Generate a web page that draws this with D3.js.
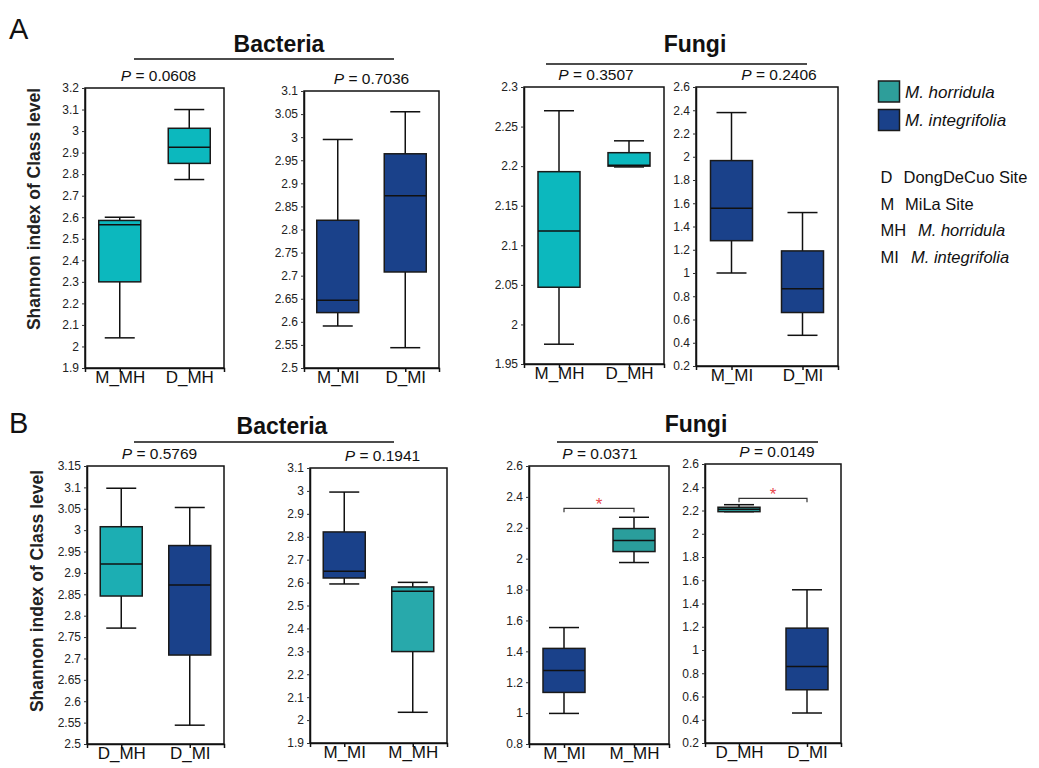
<!DOCTYPE html>
<html>
<head>
<meta charset="utf-8"/>
<title>Shannon index boxplots</title>
<script src="https://cdn.jsdelivr.net/npm/d3@7/dist/d3.min.js"></script>
<style>
  body { margin: 0; background: #fff; }
  svg { font-family: "Liberation Sans", Arial, sans-serif; }
</style>
</head>
<body>
<svg id="chart" width="1039" height="768"></svg>
<script>
// ---- data ----
// group names per panel (A1..A4, B1..B4)
var groups = [
  ["M_MH", "D_MH"], ["M_MI", "D_MI"], ["M_MH", "D_MH"], ["M_MI", "D_MI"],
  ["D_MH", "D_MI"], ["M_MI", "M_MH"], ["M_MI", "M_MH"], ["D_MH", "D_MI"]
];
// species of each box: "MH" = M. horridula, "MI" = M. integrifolia
var species = [
  ["MH", "MH"], ["MI", "MI"], ["MH", "MH"], ["MI", "MI"],
  ["MH", "MI"], ["MI", "MH"], ["MI", "MH"], ["MH", "MI"]
];
// [low whisker, q1, median, q3, high whisker]
var boxStats = [
  [[2.04, 2.30, 2.565, 2.585, 2.60], [2.775, 2.85, 2.925, 3.013, 3.10]],
  [[2.591, 2.62, 2.647, 2.82, 2.995], [2.544, 2.708, 2.873, 2.964, 3.055]],
  [[1.975, 2.047, 2.118, 2.193, 2.27], [2.199, 2.200, 2.201, 2.217, 2.232]],
  [[1.00, 1.278, 1.557, 1.967, 2.38], [0.464, 0.66, 0.864, 1.19, 1.52]],
  [[2.771, 2.846, 2.921, 3.008, 3.098], [2.544, 2.708, 2.872, 2.964, 3.053]],
  [[2.594, 2.62, 2.649, 2.821, 2.995], [2.034, 2.299, 2.562, 2.581, 2.601]],
  [[0.998, 1.134, 1.276, 1.419, 1.554], [1.975, 2.046, 2.117, 2.195, 2.268]],
  [[2.19, 2.19, 2.21, 2.228, 2.25], [0.458, 0.658, 0.859, 1.188, 1.518]]
];
var yTicks = [
  [1.9, 2, 2.1, 2.2, 2.3, 2.4, 2.5, 2.6, 2.7, 2.8, 2.9, 3, 3.1, 3.2],
  [2.5, 2.55, 2.6, 2.65, 2.7, 2.75, 2.8, 2.85, 2.9, 2.95, 3, 3.05, 3.1],
  [1.95, 2, 2.05, 2.1, 2.15, 2.2, 2.25, 2.3],
  [0.2, 0.4, 0.6, 0.8, 1, 1.2, 1.4, 1.6, 1.8, 2, 2.2, 2.4, 2.6],
  [2.5, 2.55, 2.6, 2.65, 2.7, 2.75, 2.8, 2.85, 2.9, 2.95, 3, 3.05, 3.1, 3.15],
  [1.9, 2, 2.1, 2.2, 2.3, 2.4, 2.5, 2.6, 2.7, 2.8, 2.9, 3, 3.1],
  [0.8, 1, 1.2, 1.4, 1.6, 1.8, 2, 2.2, 2.4, 2.6],
  [0.2, 0.4, 0.6, 0.8, 1, 1.2, 1.4, 1.6, 1.8, 2, 2.2, 2.4, 2.6]
];
var pValues = ["0.0608", "0.7036", "0.3507", "0.2406", "0.5769", "0.1941", "0.0371", "0.0149"];
// significance brackets: panel index, bracket height (data units)
var sigBrackets = [[6, 2.326], [7, 2.305]];

var kingdoms = ["Bacteria", "Fungi"];
var speciesNames = ["M. horridula", "M. integrifolia"];
var abbrevKeys = ["D", "M", "MH", "MI"];
var abbrevText = ["DongDeCuo Site", "MiLa Site", "M. horridula", "M. integrifolia"];

// ---- layout ----
var frames = [
  {x0: 85, x1: 224, y0: 88, y1: 368, pdx: 4, mh: "#0cb8be"},
  {x0: 304, x1: 439, y0: 91, y1: 368, pdx: 0, mh: "#0cb8be"},
  {x0: 524, x1: 664, y0: 87, y1: 364, pdx: 2, mh: "#0cb8be"},
  {x0: 696, x1: 838, y0: 87, y1: 366, pdx: 12, mh: "#0cb8be"},
  {x0: 87, x1: 224, y0: 466, y1: 744, pdx: 4, mh: "#1caeb3"},
  {x0: 310, x1: 447, y0: 468, y1: 743, pdx: 4, mh: "#28a9ab"},
  {x0: 529, x1: 669, y0: 466, y1: 744, pdx: 1, mh: "#2a9e9c"},
  {x0: 705, x1: 841, y0: 464, y1: 743, pdx: 4, mh: "#2a9e9c"}
];
var headers = [
  {text: 0, tx: 279, ty: 52, lx0: 134, lx1: 394, ly: 59},
  {text: 1, tx: 695, ty: 52, lx0: 546, lx1: 807, ly: 64},
  {text: 0, tx: 282, ty: 434, lx0: 134, lx1: 394, ly: 442},
  {text: 1, tx: 696, ty: 432, lx0: 557, lx1: 818, ly: 442}
];
var blue = "#1a418a";
var boxW = 42, capW = 30;

var svg = d3.select("#chart");

// panel letters
svg.append("text").attr("x", 9).attr("y", 39).attr("font-size", 29).attr("fill", "#111").text("A");
svg.append("text").attr("x", 9).attr("y", 433).attr("font-size", 29).attr("fill", "#111").text("B");

// y axis titles
[[40, 209], [43, 591]].forEach(function(p) {
  svg.append("text")
      .attr("transform", "translate(" + p[0] + "," + p[1] + ") rotate(-90)")
      .attr("text-anchor", "middle")
      .attr("font-size", 17.5)
      .attr("font-weight", "bold")
      .attr("fill", "#222")
      .text("Shannon index of Class level");
});

// kingdom headers with lines
headers.forEach(function(h) {
  svg.append("text")
      .attr("x", h.tx).attr("y", h.ty)
      .attr("text-anchor", "middle")
      .attr("font-size", 23)
      .attr("font-weight", "bold")
      .attr("fill", "#111")
      .text(kingdoms[h.text]);
  svg.append("line")
      .attr("x1", h.lx0).attr("x2", h.lx1)
      .attr("y1", h.ly).attr("y2", h.ly)
      .attr("stroke", "#111").attr("stroke-width", 1.5);
});

var scales = [];

frames.forEach(function(f, i) {
  var g = svg.append("g");
  var ticks = yTicks[i];

  var x = d3.scalePoint().domain(groups[i]).range([f.x0, f.x1]).padding(0.5);
  var y = d3.scaleLinear().domain([ticks[0], ticks[ticks.length - 1]]).range([f.y1, f.y0]);
  scales.push({x: x, y: y});

  // frame
  g.append("rect")
      .attr("x", f.x0).attr("y", f.y0)
      .attr("width", f.x1 - f.x0).attr("height", f.y1 - f.y0)
      .attr("fill", "none").attr("stroke", "#111").attr("stroke-width", 1.5);

  // y axis
  var ya = g.append("g")
      .attr("transform", "translate(" + f.x0 + ",0)")
      .call(d3.axisLeft(y).tickValues(ticks).tickSize(3).tickSizeOuter(0).tickPadding(3)
        .tickFormat(function(d) { return +d.toFixed(2); }));
  ya.select(".domain").attr("stroke", "#111").attr("stroke-width", 1.5);
  ya.selectAll(".tick line").attr("stroke", "#333");
  ya.selectAll("text").attr("font-size", 12).attr("fill", "#222").attr("font-family", null);

  // x axis
  var xa = g.append("g")
      .attr("transform", "translate(0," + f.y1 + ")")
      .call(d3.axisBottom(x).tickSize(4).tickSizeOuter(4));
  xa.select(".domain").attr("stroke", "#111").attr("stroke-width", 1.5);
  xa.selectAll(".tick line").attr("stroke", "#111").attr("stroke-width", 1.5);
  xa.selectAll("text").attr("y", 3).attr("font-size", 17).attr("fill", "#111").attr("font-family", null);

  // boxes
  var box = g.selectAll(".box")
      .data(boxStats[i])
    .enter().append("g")
      .attr("class", "box");

  box.append("line")
      .attr("x1", function(d, j) { return x(groups[i][j]); })
      .attr("x2", function(d, j) { return x(groups[i][j]); })
      .attr("y1", function(d) { return y(d[0]); })
      .attr("y2", function(d) { return y(d[4]); })
      .attr("stroke", "#111").attr("stroke-width", 1.5);

  [0, 4].forEach(function(k) {
    box.append("line")
        .attr("x1", function(d, j) { return x(groups[i][j]) - capW / 2; })
        .attr("x2", function(d, j) { return x(groups[i][j]) + capW / 2; })
        .attr("y1", function(d) { return y(d[k]); })
        .attr("y2", function(d) { return y(d[k]); })
        .attr("stroke", "#111").attr("stroke-width", 1.5);
  });

  box.append("rect")
      .attr("x", function(d, j) { return x(groups[i][j]) - boxW / 2; })
      .attr("y", function(d) { return y(d[3]); })
      .attr("width", boxW)
      .attr("height", function(d) { return Math.max(1, y(d[1]) - y(d[3])); })
      .attr("fill", function(d, j) { return species[i][j] === "MH" ? f.mh : blue; })
      .attr("stroke", "#1a1a1a").attr("stroke-width", 1.5);

  box.append("line")
      .attr("x1", function(d, j) { return x(groups[i][j]) - boxW / 2; })
      .attr("x2", function(d, j) { return x(groups[i][j]) + boxW / 2; })
      .attr("y1", function(d) { return y(d[2]); })
      .attr("y2", function(d) { return y(d[2]); })
      .attr("stroke", "#111").attr("stroke-width", 1.5);

  // P value
  var pt = g.append("text")
      .attr("x", (f.x0 + f.x1) / 2 + f.pdx)
      .attr("y", f.y0 - 7)
      .attr("text-anchor", "middle")
      .attr("font-size", 15.5)
      .attr("fill", "#111");
  pt.append("tspan").attr("font-style", "italic").text("P");
  pt.append("tspan").text(" = " + pValues[i]);
});

// significance brackets
sigBrackets.forEach(function(s) {
  var i = s[0], sc = scales[i];
  var xa = sc.x(groups[i][0]), xb = sc.x(groups[i][1]), yb = sc.y(s[1]);
  svg.append("path")
      .attr("d", "M" + xa + "," + (yb + 4) + "V" + yb + "H" + xb + "V" + (yb + 4))
      .attr("fill", "none").attr("stroke", "#333").attr("stroke-width", 1.2);
  svg.append("text")
      .attr("x", (xa + xb) / 2).attr("y", yb + 2)
      .attr("text-anchor", "middle")
      .attr("font-size", 17)
      .attr("fill", "#e8474b")
      .text("*");
});

// legend
var lg = svg.append("g");
var swatchColors = ["#2e9e9a", blue];
speciesNames.forEach(function(name, k) {
  lg.append("rect")
      .attr("x", 878.5).attr("y", 81 + k * 28.5)
      .attr("width", 21).attr("height", 21)
      .attr("fill", swatchColors[k]).attr("stroke", "#1a1a1a").attr("stroke-width", 1.5);
  lg.append("text")
      .attr("x", 905).attr("y", 97.5 + k * 28.5)
      .attr("font-size", 17).attr("font-style", "italic").attr("fill", "#111")
      .text(name);
});
var descX = [903.5, 905, 918, 911];
abbrevKeys.forEach(function(key, k) {
  var yy = 183 + k * 26.5;
  lg.append("text")
      .attr("x", 880.5).attr("y", yy)
      .attr("font-size", 16.5).attr("fill", "#111")
      .text(key);
  lg.append("text")
      .attr("x", descX[k]).attr("y", yy)
      .attr("font-size", 16.5).attr("fill", "#111")
      .attr("font-style", k >= 2 ? "italic" : null)
      .text(abbrevText[k]);
});
</script>
</body>
</html>
